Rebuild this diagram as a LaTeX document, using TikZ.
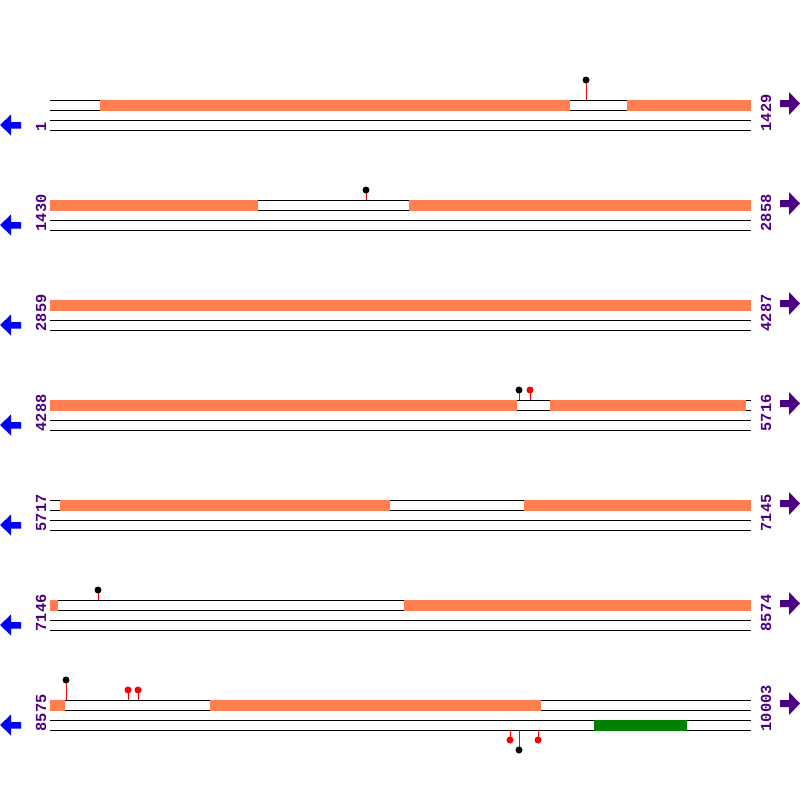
\documentclass[tikz,border=0pt]{standalone}
\usepackage{fontspec}
\setmonofont{Liberation Mono}
\definecolor{coral}{HTML}{FF7F50}
\definecolor{lblc}{HTML}{4B0082}
\definecolor{grn}{HTML}{008000}
\definecolor{bluearr}{HTML}{0000FF}
\begin{document}
\begin{tikzpicture}[x=0.75pt,y=-0.75pt,
  strand/.style={line width=0.75pt, black},
  obox/.style={fill=coral, draw=none},
  gbox/.style={fill=grn, draw=none},
  numlbl/.style={font=\ttfamily\bfseries\fontsize{11.5}{11.5}\selectfont, text=lblc, rotate=90, anchor=base west, inner sep=0pt},
  stem/.style={red, line width=0.75pt},
  blackhead/.style={fill=black, draw=none},
  redhead/.style={fill=red, draw=none},
  leftarr/.style={fill=bluearr, draw=none},
  rightarr/.style={fill=lblc, draw=none}]
\useasboundingbox (0,0) rectangle (800,800);

% strands
\foreach \k in {0,...,6}{
  \pgfmathsetmacro{\yb}{100+100*\k}
  \foreach \d in {0,10,20,30}{
    \draw[strand] (50,\yb+\d) -- (751,\yb+\d);
  }
  % left blue arrow
  \fill[leftarr] (0,\yb+25) -- (11,\yb+14.5) -- (11,\yb+22) -- (21,\yb+22) -- (21,\yb+28.5) -- (11,\yb+28.5) -- (11,\yb+35.5) -- cycle;
  % right purple arrow
  \fill[rightarr] (800,\yb+3.5) -- (789,\yb-8) -- (789,\yb) -- (780,\yb) -- (780,\yb+7) -- (789,\yb+7) -- (789,\yb+15) -- cycle;
}

% row labels
\node[numlbl] (l1) at (46,131.5) {1};
\node[numlbl] (r1) at (771,131.5) {1429};
\node[numlbl] (l2) at (46,231.5) {1430};
\node[numlbl] (r2) at (771,231.5) {2858};
\node[numlbl] (l3) at (46,331.5) {2859};
\node[numlbl] (r3) at (771,331.5) {4287};
\node[numlbl] (l4) at (46,431.5) {4288};
\node[numlbl] (r4) at (771,431.5) {5716};
\node[numlbl] (l5) at (46,531.5) {5717};
\node[numlbl] (r5) at (771,531.5) {7145};
\node[numlbl] (l6) at (46,631.5) {7146};
\node[numlbl] (r6) at (771,631.5) {8574};
\node[numlbl] (l7) at (46,731.5) {8575};
\node[numlbl] (r7) at (771,731.5) {10003};

% orange boxes
\fill[obox] (100,99.5) rectangle (570,110.5);
\fill[obox] (627,99.5) rectangle (751,110.5);
\fill[obox] (50,199.5) rectangle (258,210.5);
\fill[obox] (409,199.5) rectangle (751,210.5);
\fill[obox] (50,299.5) rectangle (751,310.5);
\fill[obox] (50,399.5) rectangle (517,410.5);
\fill[obox] (550,399.5) rectangle (746,410.5);
\fill[obox] (60,499.5) rectangle (390,510.5);
\fill[obox] (524,499.5) rectangle (751,510.5);
\fill[obox] (50,599.5) rectangle (58,610.5);
\fill[obox] (404,599.5) rectangle (751,610.5);
\fill[obox] (50,699.5) rectangle (65,710.5);
\fill[obox] (210,699.5) rectangle (541,710.5);
% green box
\fill[gbox] (594,719.5) rectangle (687,730.5);

% lollipops
\draw[stem] (586,80) -- (586,100); \fill[blackhead] (586,80) circle (3.5);
\draw[stem] (366,190) -- (366,200); \fill[blackhead] (366,190) circle (3.5);
\draw[stem] (519,390) -- (519,400); \fill[blackhead] (519,390) circle (3.5);
\draw[stem] (530,390) -- (530,400); \fill[redhead] (530,390) circle (3.5);
\draw[stem] (98,590) -- (98,600); \fill[blackhead] (98,590) circle (3.5);
\draw[stem] (66,680) -- (66,700); \fill[blackhead] (66,680) circle (3.5);
\draw[stem] (128,690) -- (128,700); \fill[redhead] (128,690) circle (3.5);
\draw[stem] (138,690) -- (138,700); \fill[redhead] (138,690) circle (3.5);
\draw[stem] (510,730) -- (510,740); \fill[redhead] (510,740) circle (3.5);
\draw[stem] (519,730) -- (519,750); \fill[blackhead] (519,750) circle (3.5);
\draw[stem] (538,730) -- (538,740); \fill[redhead] (538,740) circle (3.5);
\end{tikzpicture}
\end{document}
